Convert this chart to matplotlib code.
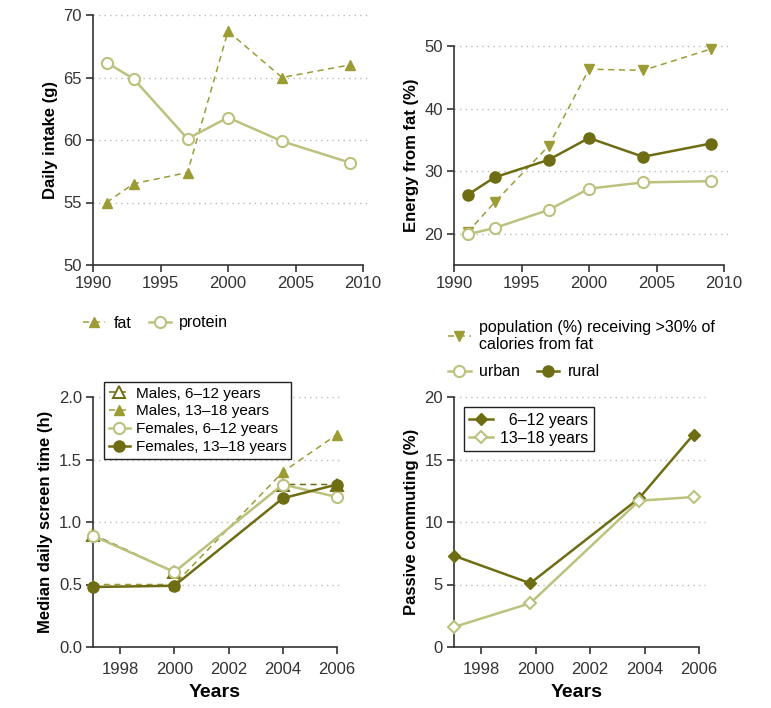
import matplotlib as mpl
import matplotlib.pyplot as plt
import matplotlib.ticker as ticker
from matplotlib.lines import Line2D

mpl.rcParams['font.family'] = ['Liberation Sans', 'DejaVu Sans']
mpl.rcParams['axes.linewidth'] = 1.2
mpl.rcParams['axes.edgecolor'] = '#333333'
mpl.rcParams['xtick.color'] = '#333333'
mpl.rcParams['ytick.color'] = '#333333'
mpl.rcParams['xtick.labelcolor'] = '#333333'
mpl.rcParams['ytick.labelcolor'] = '#333333'

LIGHT = '#bcc27e'
MID = '#9c9c35'
DARK = '#6e6d14'
GRID = '#bbbbbb'

# panel A: daily intake
intake_years = [1991, 1993, 1997, 2000, 2004, 2009]
fat_g = [55.0, 56.5, 57.4, 68.7, 65.0, 66.0]
protein_g = [66.2, 64.9, 60.1, 61.8, 59.9, 58.2]

# panel B: energy from fat
energy_years = [1991, 1993, 1997, 2000, 2004, 2009]
pop_over30 = [20.2, 25.0, 34.0, 46.3, 46.1, 49.5]
urban_pct = [19.9, 20.9, 23.8, 27.2, 28.2, 28.4]
rural_pct = [26.2, 29.0, 31.8, 35.3, 32.3, 34.4]

# panel C: screen time
screen_years = [1997, 2000, 2004, 2006]
males_6_12 = [0.90, 0.60, 1.30, 1.30]
males_13_18 = [0.50, 0.50, 1.40, 1.70]
females_6_12 = [0.89, 0.60, 1.30, 1.20]
females_13_18 = [0.48, 0.49, 1.19, 1.30]

# panel D: passive commuting
commute_years = [1997, 1999.8, 2003.8, 2005.8]
commute_6_12 = [7.3, 5.1, 11.9, 17.0]
commute_13_18 = [1.6, 3.5, 11.7, 12.0]

TICK_SIZE = 12
LABEL_SIZE = 12
LEGEND_SIZE = 11.5

DASH = (0, (4, 3))
dashed = dict(linestyle=DASH, linewidth=1.1, clip_on=False, zorder=3)
solid = dict(linewidth=1.8, clip_on=False, zorder=4)
open_circle = dict(marker='o', markersize=8, markerfacecolor='white', markeredgewidth=1.5)
filled_circle = dict(marker='o', markersize=8)


def style_axes(ax, grid_values):
    for side in ('top', 'right'):
        ax.spines[side].set_visible(False)
    ax.tick_params(direction='out', length=5, width=1.2, labelsize=TICK_SIZE, pad=3)
    trans = ax.get_yaxis_transform()
    for v in grid_values:
        ax.plot([0, 1.025], [v, v], transform=trans, color=GRID, linestyle=(0, (1, 3)),
                linewidth=1.0, clip_on=False, zorder=0)


def frame_legend(leg):
    leg.get_frame().set_edgecolor('#222222')
    leg.get_frame().set_linewidth(1.0)
    leg.set_zorder(6)


def plot_intake(ax):
    ax.plot(intake_years, fat_g, color=MID, marker='^', markersize=7, label='fat', **dashed)
    ax.plot(intake_years, protein_g, color=LIGHT, label='protein', **open_circle, **solid)
    ax.set_xlim(1990, 2010)
    ax.set_ylim(50, 70)
    ax.xaxis.set_major_locator(ticker.MultipleLocator(5))
    ax.yaxis.set_major_locator(ticker.MultipleLocator(5))
    ax.set_ylabel('Daily intake (g)', fontsize=LABEL_SIZE, fontweight='bold')
    style_axes(ax, [55, 60, 65, 70])
    ax.legend(loc='center left', bbox_to_anchor=(-0.09, -0.232), ncol=2, frameon=False,
              fontsize=LEGEND_SIZE, handlelength=1.4, handletextpad=0.5, columnspacing=1.1)


def plot_energy(ax):
    ax.plot(energy_years, pop_over30, color=MID, marker='v', markersize=7, **dashed)
    ax.plot(energy_years, urban_pct, color=LIGHT, **open_circle, **solid)
    ax.plot(energy_years, rural_pct, color=DARK, **filled_circle, **solid)
    ax.set_xlim(1990, 2010)
    ax.set_ylim(15, 50)
    ax.set_yticks([20, 30, 40, 50])
    ax.xaxis.set_major_locator(ticker.MultipleLocator(5))
    ax.set_ylabel('Energy from fat (%)', fontsize=LABEL_SIZE, fontweight='bold')
    style_axes(ax, [20, 30, 40, 50])

    pop_handle = Line2D([], [], color=MID, linestyle=DASH, linewidth=1.1, marker='v',
                        markersize=7)
    urban_handle = Line2D([], [], color=LIGHT, linewidth=1.8, **open_circle)
    rural_handle = Line2D([], [], color=DARK, linewidth=1.8, **filled_circle)
    leg1 = ax.legend([pop_handle], ['population (%) receiving >30% of\ncalories from fat'],
                     loc='upper left', bbox_to_anchor=(-0.045, -0.22), frameon=False,
                     fontsize=LEGEND_SIZE, handlelength=1.4, handletextpad=0.5,
                     labelspacing=0.2, borderaxespad=0)
    ax.add_artist(leg1)
    ax.legend([urban_handle, rural_handle], ['urban', 'rural'], ncol=2, loc='upper left',
              bbox_to_anchor=(-0.045, -0.425), frameon=False, fontsize=LEGEND_SIZE,
              handlelength=1.4, handletextpad=0.5, columnspacing=1.1, borderaxespad=0)


def plot_screen(ax):
    ax.plot(screen_years, males_6_12, color=DARK, marker='^', markersize=8,
            markerfacecolor='white', markeredgewidth=1.4, label='Males, 6\u201312 years',
            **dashed)
    ax.plot(screen_years, males_13_18, color=MID, marker='^', markersize=7,
            label='Males, 13\u201318 years', **dashed)
    ax.plot(screen_years, females_6_12, color=LIGHT, label='Females, 6\u201312 years',
            **open_circle, **solid)
    ax.plot(screen_years, females_13_18, color=DARK, label='Females, 13\u201318 years',
            **filled_circle, **solid)
    ax.set_xlim(1997, 2006)
    ax.set_ylim(0, 2.0)
    ax.set_xticks([1998, 2000, 2002, 2004, 2006])
    ax.yaxis.set_major_locator(ticker.MultipleLocator(0.5))
    ax.yaxis.set_major_formatter(ticker.FormatStrFormatter('%.1f'))
    ax.tick_params(axis='x', pad=6)
    ax.set_xlabel('Years', fontsize=LABEL_SIZE + 2, fontweight='bold', labelpad=5)
    ax.set_ylabel('Median daily screen time (h)', fontsize=LABEL_SIZE, fontweight='bold')
    style_axes(ax, [0.5, 1.0, 1.5, 2.0])
    ax.tick_params(axis='x', pad=6)
    leg = ax.legend(loc='upper left', bbox_to_anchor=(0.045, 1.06), frameon=True,
                    fontsize=11, handlelength=1.4, handletextpad=0.4,
                    labelspacing=0.25, borderpad=0.3, borderaxespad=0, fancybox=False,
                    framealpha=1)
    frame_legend(leg)


def plot_commute(ax):
    ax.plot(commute_years, commute_6_12, color=DARK, marker='D', markersize=6.5,
            label='\u20076\u201312 years', **solid)
    ax.plot(commute_years, commute_13_18, color=LIGHT, marker='D', markersize=6.5,
            markerfacecolor='white', markeredgewidth=1.5, label='13\u201318 years', **solid)
    ax.set_xlim(1997, 2006)
    ax.set_ylim(0, 20)
    ax.set_xticks([1998, 2000, 2002, 2004, 2006])
    ax.yaxis.set_major_locator(ticker.MultipleLocator(5))
    ax.set_xlabel('Years', fontsize=LABEL_SIZE + 2, fontweight='bold', labelpad=5)
    ax.set_ylabel('Passive commuting (%)', fontsize=LABEL_SIZE, fontweight='bold')
    style_axes(ax, [5, 10, 15, 20])
    ax.tick_params(axis='x', pad=6)
    leg = ax.legend(loc='upper left', bbox_to_anchor=(0.04, 0.96), frameon=True,
                    fontsize=LEGEND_SIZE, handlelength=1.5, handletextpad=0.4,
                    labelspacing=0.2, borderpad=0.35, borderaxespad=0, fancybox=False,
                    framealpha=1)
    frame_legend(leg)


def main():
    fig = plt.figure(figsize=(7.71, 7.08), dpi=100)
    ax_a = fig.add_axes([93 / 771, 1 - 265 / 708, 270 / 771, 250 / 708])
    ax_b = fig.add_axes([454 / 771, 1 - 265 / 708, 270 / 771, 219 / 708])
    ax_c = fig.add_axes([93 / 771, 1 - 647 / 708, 244 / 771, 250 / 708])
    ax_d = fig.add_axes([454 / 771, 1 - 647 / 708, 245 / 771, 250 / 708])

    plot_intake(ax_a)
    plot_energy(ax_b)
    plot_screen(ax_c)
    plot_commute(ax_d)

    fig.savefig('out.png', dpi=100)
    plt.close(fig)


if __name__ == '__main__':
    main()
